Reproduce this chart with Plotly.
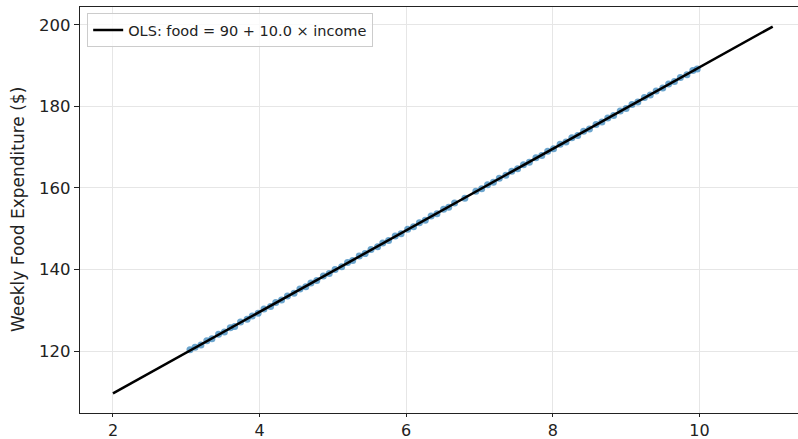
import plotly.graph_objects as go

income = [3.05, 3.12, 3.20, 3.28, 3.35, 3.44, 3.52, 3.60, 3.66, 3.74, 3.83, 3.90,
          3.98, 4.06, 4.15, 4.22, 4.30, 4.38, 4.47, 4.55, 4.63, 4.70, 4.78, 4.87,
          4.95, 5.03, 5.12, 5.20, 5.27, 5.36, 5.44, 5.52, 5.61, 5.68, 5.76, 5.85,
          5.93, 6.02, 6.10, 6.18, 6.26, 6.34, 6.42, 6.51, 6.58, 6.66, 6.80, 6.95,
          7.03, 7.11, 7.19, 7.27, 7.36, 7.44, 7.52, 7.60, 7.68, 7.77, 7.85, 7.93,
          8.01, 8.10, 8.18, 8.26, 8.34, 8.42, 8.50, 8.59, 8.67, 8.75, 8.83, 8.92,
          9.00, 9.08, 9.16, 9.25, 9.33, 9.41, 9.50, 9.58, 9.66, 9.74, 9.83, 9.91, 9.97]
food = [120.3, 120.9, 121.5, 122.5, 123.0, 124.1, 124.7, 125.7, 126.0, 127.1, 127.8, 128.6,
        129.3, 130.3, 130.9, 131.9, 132.5, 133.5, 134.2, 135.2, 135.8, 136.7, 137.3, 138.4,
        139.0, 140.0, 140.7, 141.7, 142.2, 143.3, 143.9, 144.9, 145.6, 146.5, 147.1, 148.2,
        148.8, 149.9, 150.5, 151.5, 152.1, 153.1, 153.7, 154.8, 155.3, 156.3, 157.5, 159.2,
        159.8, 160.8, 161.4, 162.4, 163.1, 164.1, 164.7, 165.7, 166.3, 167.4, 168.0, 169.0,
        169.6, 170.7, 171.3, 172.3, 172.9, 173.9, 174.5, 175.6, 176.2, 177.2, 177.8, 178.9,
        179.5, 180.5, 181.1, 182.2, 182.8, 183.8, 184.5, 185.5, 186.1, 187.1, 187.8, 188.8, 189.2]

intercept = 89.6
slope = 10.0
line_x = [2, 11]
line_y = [intercept + slope * v for v in line_x]

x_ticks = [2, 4, 6, 8, 10]
y_ticks = [120, 140, 160, 180, 200]
y_label = "Weekly Food Expenditure ($)"

fig = go.Figure()
fig.add_trace(go.Scatter(
    x=income, y=food, mode="markers",
    marker=dict(color="rgba(31,119,180,0.65)", size=7, line=dict(width=0)),
    showlegend=False, hoverinfo="x+y"))
fig.add_trace(go.Scatter(
    x=line_x, y=line_y, mode="lines",
    line=dict(color="black", width=2.5),
    name="OLS: food = 90 + 10.0 × income"))

axis_common = dict(
    showgrid=True, gridcolor="#e6e6e6", gridwidth=1,
    zeroline=False, showline=True, linecolor="#222", linewidth=1.2,
    ticks="outside", tickwidth=1, tickcolor="#222",
    automargin=False,
)

fig.update_layout(
    width=798, height=439,
    margin=dict(l=80, r=0, t=7, b=26),
    paper_bgcolor="white", plot_bgcolor="white",
    font=dict(family="DejaVu Sans", color="#222"),
    xaxis=dict(range=[1.55, 11.345], tickvals=x_ticks, mirror=True, ticklen=3,
               tickfont=dict(family="DejaVu Sans", size=16, color="#222"), **axis_common),
    yaxis=dict(range=[104.8, 204.4], tickvals=y_ticks, ticklen=5,
               tickfont=dict(family="DejaVu Sans", size=16.5, color="#222"), **axis_common),
    legend=dict(x=0.01, y=0.985, xanchor="left", yanchor="top",
                bgcolor="rgba(255,255,255,0.8)", bordercolor="#cccccc", borderwidth=1,
                font=dict(size=14.5, family="DejaVu Sans", color="#222"),
                itemwidth=30, tracegroupgap=0),
    annotations=[dict(text=y_label, xref="paper", yref="paper", x=0, y=0.5,
                      xanchor="center", yanchor="middle", xshift=-62, textangle=-90,
                      showarrow=False, font=dict(size=17, family="DejaVu Sans", color="#222"))],
)

fig.write_html("out.html")
